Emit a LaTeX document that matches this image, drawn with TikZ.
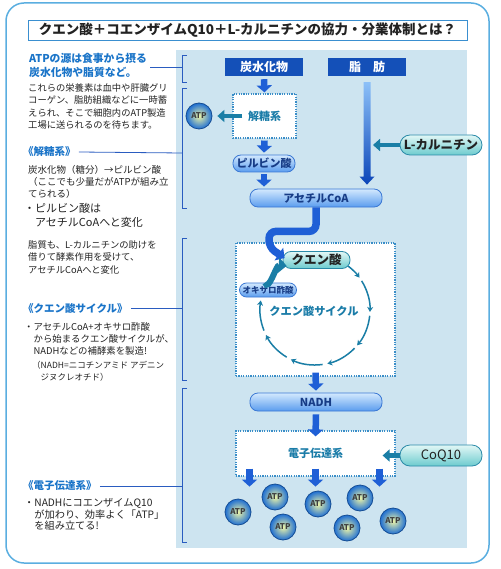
\documentclass[tikz,border=0pt]{standalone}
\usepackage{fontspec}
\setmainfont{Noto Sans CJK JP}
\usetikzlibrary{arrows.meta,positioning,calc}
\definecolor{frameblue}{HTML}{5AAEE0}
\definecolor{titleblue}{HTML}{3A8FD0}
\definecolor{panelblue}{HTML}{CDE4F0}
\definecolor{darkbox}{HTML}{1450B8}
\definecolor{headblue}{HTML}{1A74C8}
\definecolor{tealtext}{HTML}{1A7CA8}
\definecolor{brackblue}{HTML}{2A5CC0}
\definecolor{flowblue}{HTML}{1F5FD6}
\definecolor{flowlight}{HTML}{8CC0F8}
\definecolor{flowdark}{HTML}{0B45B8}
\definecolor{tealflow}{HTML}{1A7EA6}
\definecolor{dotblue}{HTML}{3A8EC8}
\definecolor{pilltop}{HTML}{D3E9FE}
\definecolor{pillbot}{HTML}{5A9CEE}
\definecolor{pillline}{HTML}{3B78D4}
\definecolor{tealtop}{HTML}{E2F7F6}
\definecolor{tealbot}{HTML}{6CCBCE}
\definecolor{tealline}{HTML}{2A8AA8}
\definecolor{inktext}{HTML}{222222}
\definecolor{navytext}{HTML}{173C86}
\definecolor{atpin}{HTML}{EEF6A8}
\definecolor{atpout}{HTML}{1E6ED2}

\begin{document}
\begin{tikzpicture}[x=1pt, y=-1pt,
    titlebox/.style={rectangle, draw=titleblue, line width=1pt, fill=white, minimum width=439pt,
      minimum height=20pt, inner sep=0pt, text=inktext, font=\fontsize{13.5}{13.5}\selectfont\bfseries},
    darkhead/.style={rectangle, fill=darkbox, text=white, minimum width=78pt, minimum height=18pt,
      inner sep=0pt, font=\fontsize{12}{12}\selectfont\bfseries},
    dotbox/.style={rectangle, draw=dotblue, line width=1.2pt, dash pattern=on 1.2pt off 1.2pt, fill=white,
      inner sep=0pt, text=tealtext, font=\fontsize{11}{11}\selectfont\bfseries},
    bluepill/.style={rectangle, rounded corners=8pt, draw=pillline, line width=0.8pt, top color=pilltop,
      bottom color=pillbot, text=navytext, inner sep=0pt, minimum height=17pt, font=\fontsize{11}{11}\selectfont\bfseries},
    tealpill/.style={rectangle, rounded corners=10pt, draw=tealline, line width=0.8pt, top color=tealtop,
      bottom color=tealbot, text=inktext, inner sep=0pt, minimum height=20pt, font=\fontsize{12.5}{12.5}\selectfont\bfseries},
    atp/.style={circle, draw=atpout!70!black, line width=0.8pt, inner color=atpin, outer color=atpout,
      minimum size=26pt, inner sep=0pt, text=black!75, font=\fontsize{8}{8}\selectfont\bfseries},
    flow/.style={draw=flowblue, line width=6.5pt, -{Triangle[width=15pt,length=7pt]}},
    tealarr/.style={draw=tealflow, line width=4.5pt, -{Triangle[width=12pt,length=7pt]}},
    cyclearr/.style={draw=tealflow, line width=1.5pt, -{Stealth[width=6pt,length=5pt]}},
    bracket/.style={draw=brackblue, line width=0.8pt},
    heading/.style={anchor=west, inner sep=0pt, text=headblue, font=\fontsize{10.5}{10.5}\selectfont\bfseries},
    note/.style={anchor=north west, align=left, inner sep=0pt, text=inktext}
  ]
    \useasboundingbox (0,0) rectangle (500,569);

    % frame, title and panel
    \draw[frameblue, line width=1.5pt, rounded corners=18pt] (6,3) rectangle (489,563);
    \node[titlebox] (title) at (247.5,30.5) {クエン酸＋コエンザイムQ10＋L-カルニチンの協力・分業体制とは？};
    \fill[panelblue] (176,50) rectangle (467,548);

    % left column texts
    \node[note, text=headblue, font=\fontsize{10.8}{14}\selectfont\bfseries] (hdA) at (29,53)
      {ATPの源は食事から摂る\\炭水化物や脂質など。};
    \node[note, font=\fontsize{9.3}{12.2}\selectfont] (txA) at (28,83.6)
      {これらの栄養素は血中や肝臓グリ\\コーゲン、脂肪組織などに一時蓄\\えられ、そこで細胞内のATP製造\\工場に送られるのを待ちます。};

    \node[heading] (lbGly) at (23,152) {《解糖系》};
    \node[note, font=\fontsize{9.5}{11.7}\selectfont] (txB) at (28,165.5)
      {炭水化物（糖分）→ピルビン酸\\（ここでも少量だがATPが組み立\\てられる）};
    \node[note, font=\fontsize{11}{14}\selectfont] (txC) at (24,202.8)
      {・ピルビン酸は\\\hspace*{1em}アセチルCoAへと変化};
    \node[note, font=\fontsize{9.3}{12.3}\selectfont] (txD) at (28,240.6)
      {脂質も、L-カルニチンの助けを\\借りて酵素作用を受けて、\\アセチルCoAへと変化};

    \node[heading] (lbCyc) at (23,308) {《クエン酸サイクル》};
    \node[note, font=\fontsize{9.4}{11.8}\selectfont] (txE) at (24,322.5)
      {・アセチルCoA+オキサロ酢酸\\\hspace*{1em}から始まるクエン酸サイクルが、\\\hspace*{1em}NADHなどの補酵素を製造!};
    \node[note, font=\fontsize{8.5}{12}\selectfont] (txF) at (32,361)
      {（NADH=ニコチンアミド アデニン\\\hspace*{1em}ジヌクレオチド）};

    \node[heading] (lbEtc) at (23,486) {《電子伝達系》};
    \node[note, font=\fontsize{10.2}{11.6}\selectfont] (txG) at (24,498.2)
      {・NADHにコエンザイムQ10\\\hspace*{1em}が加わり、効率よく「ATP」\\\hspace*{1em}を組み立てる!};

    % brackets
    \coordinate (brA) at (182,67);
    \coordinate (brB) at (182,153);
    \coordinate (brC) at (182,308);
    \coordinate (brD) at (182,486);
    \draw[bracket] (187,55) -| (182,82) -- (187,82);
    \draw[bracket] (187,88) -| (182,208) -- (187,208);
    \draw[bracket] (187,238) -| (182,380) -- (187,380);
    \draw[bracket] (187,388) -| (182,542) -- (187,542);
    \draw[bracket] ($(hdA.east |- brA)+(3,0)$) -- (brA);
    \draw[bracket] ($(lbGly.east)+(3,0)$) -- (brB);
    \draw[bracket] ($(lbCyc.east)+(3,0)$) -- (brC);
    \draw[bracket] ($(lbEtc.east)+(3,0)$) -- (brD);

    % upper flow
    \node[darkhead] (carb) at (264,67) {炭水化物};
    \node[darkhead] (fat) at (367,67) {脂　肪};
    \node[dotbox, minimum width=63pt, minimum height=44pt] (glyc) at (264.5,116) {解糖系};
    \node[atp] (atp0) at (199,116) {ATP};
    \node[bluepill, minimum width=62pt] (pyr) at (264,163.5) {ピルビン酸};
    \node[bluepill, minimum width=132pt, minimum height=18pt] (acetyl) at (316,198) {アセチルCoA};
    \node[tealpill, minimum width=82pt] (carn) at (441,145) {L-カルニチン};

    \draw[flow] ($(carb.south)+(0,3)$) -- ($(glyc.north)+(0,-1)$);
    \draw[flow] ($(glyc.south)+(0,2)$) -- ($(pyr.north)+(0,-2)$);
    \draw[flow] ($(pyr.south)+(0,2)$) -- ($(pyr.south |- acetyl.north)+(0,-2)$);
    \draw[tealarr, shorten >=5pt] ($(glyc.west)+(10,0)$) -- (atp0.east);

    \coordinate (fatTop) at ($(fat.south)+(0,6)$);
    \coordinate (fatTip) at ($(fat.south |- acetyl.north)+(0,-4)$);
    \shade[top color=flowlight, bottom color=flowdark] ($(fatTop)+(-3.5,0)$) -- ($(fatTip)+(-3.5,-8)$)
      -- ($(fatTip)+(-7.5,-8)$) -- (fatTip) -- ($(fatTip)+(7.5,-8)$) -- ($(fatTip)+(3.5,-8)$)
      -- ($(fatTop)+(3.5,0)$) -- cycle;
    \draw[tealarr] (carn.west) -- ($(carn.west -| fatTop)+(6,0)$);

    % citric acid cycle
    \node[dotbox, minimum width=159pt, minimum height=133pt] (cycbox) at (315.5,309.5) {};
    \node[tealpill, minimum width=67pt, minimum height=17pt, rounded corners=8pt] (cit) at (316.5,260) {クエン酸};
    \node[bluepill, minimum width=57pt, minimum height=14pt, rounded corners=7pt,
      font=\fontsize{8.5}{8.5}\selectfont\bfseries] (oxa) at (268,290) {オキサロ酢酸};
    \node[text=tealtext, font=\fontsize{11.2}{11.2}\selectfont\bfseries] (cyclbl) at (314,311) {クエン酸サイクル};
    \coordinate (cyc) at (315,310);

    \draw[flow, line width=7.5pt, rounded corners=7pt] (acetyl.south) -- ++(0,24) -- ++(-47,0) -- ++(0,16)
      -- ($(cit.west)+(2,-2)$);
    \draw[tealarr, line width=6pt, -{Triangle[width=15pt,length=8pt]}] ($(oxa.north)+(-3,0)$)
      to[out=-70, in=175] ($(cit.south west)+(4,-3)$);
    \foreach \a/\b in {-53/-36, -32/2, 6/40, 44/77, 82/116, 121/153, 158/190}
      \draw[cyclearr] ($(cyc)+(\a:55)$) arc[start angle=\a, end angle=\b, radius=55];

    % electron transport
    \node[bluepill, minimum width=132pt, minimum height=18pt] (nadh) at (316,402) {NADH};
    \node[dotbox, minimum width=159pt, minimum height=45pt] (etc) at (315.5,453.5) {電子伝達系};
    \node[tealpill, minimum width=82pt, minimum height=21pt, font=\fontsize{13}{13}\selectfont] (coq) at (441,455.5) {CoQ10};

    \draw[flow] ($(cycbox.south)+(0,-4)$) -- ($(nadh.north)+(0,-2)$);
    \draw[flow] ($(nadh.south)+(0,3)$) -- ($(etc.north)+(0,6)$);
    \draw[tealarr] (coq.west) -- ($(coq.west -| etc.east)+(-13,0)$);
    \foreach \dx in {-66,0,64}
      \draw[flow] ($(etc.south)+(\dx,-8)$) -- ($(etc.south)+(\dx,10)$);

    \foreach \x/\y [count=\i] in {238/512, 275/497, 283/527, 318/504, 360/498, 347/528, 393/521}
      \node[atp] (atp\i) at (\x,\y) {ATP};

  \end{tikzpicture}
\end{document}
